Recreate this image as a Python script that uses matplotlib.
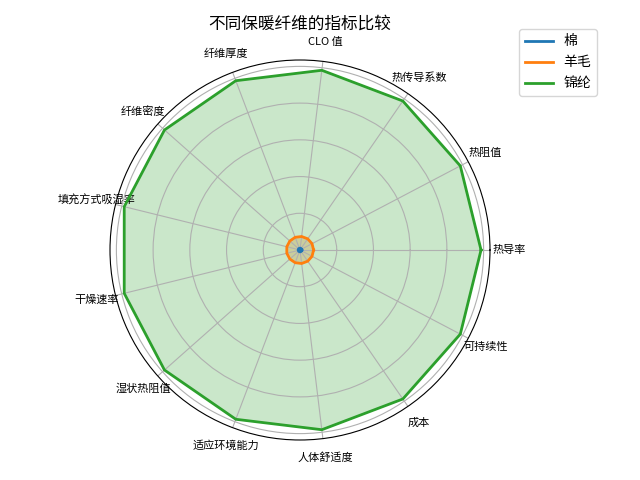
import numpy as np
import matplotlib
matplotlib.use("Agg")
import matplotlib.pyplot as plt

plt.rcParams['font.family'] = ['Noto Sans CJK SC', 'DejaVu Sans']
plt.rcParams['axes.unicode_minus'] = False

categories = ['热导率', '热阻值', '热传导系数', 'CLO 值', '纤维厚度', '纤维密度',
              '填充方式吸湿率', '干燥速率', '湿状热阻值', '适应环境能力',
              '人体舒适度', '成本', '可持续性']
series_names = ['棉', '羊毛', '锦纶']
cotton = [0.05] * 13
wool = [0.37] * 13
nylon = [4.93] * 13
values = [cotton, wool, nylon]

n = len(categories)
angles = np.linspace(0, 2 * np.pi, n, endpoint=False).tolist()
angles_closed = angles + angles[:1]

fig = plt.figure(figsize=(6.4, 4.8), dpi=100)
ax = fig.add_axes([110 / 640, 40 / 480, 380 / 640, 380 / 480], polar=True)

for name, vals in zip(series_names, values):
    v = list(vals) + vals[:1]
    line, = ax.plot(angles_closed, v, linewidth=2, label=name)
    ax.fill(angles_closed, v, color=line.get_color(), alpha=0.25)

ax.set_xticks(angles)
ax.set_xticklabels(categories, fontsize=8)
ax.set_yticks([1, 2, 3, 4, 5])
ax.set_yticklabels([])
ax.set_title('不同保暖纤维的指标比较', fontsize=12)
ax.legend(loc='upper right', bbox_to_anchor=(1.3, 1.1), fontsize=10)

fig.savefig('out.png', dpi=100)
